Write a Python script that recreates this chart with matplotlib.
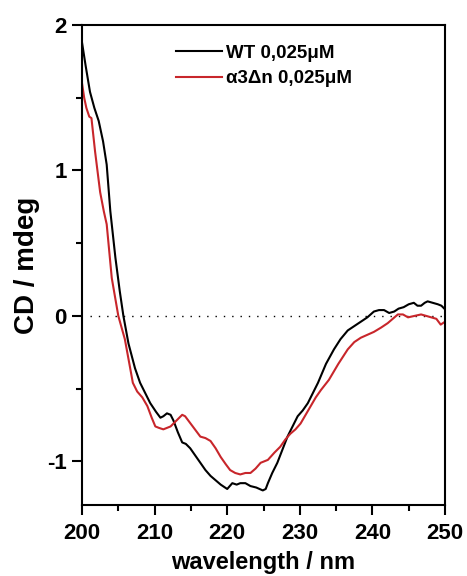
import matplotlib

matplotlib.use("Agg")

import matplotlib.pyplot as plt  # noqa: E402
from matplotlib.ticker import MultipleLocator  # noqa: E402

plt.rcParams["font.family"] = ["Liberation Sans", "DejaVu Sans"]
plt.rcParams["font.weight"] = "bold"
plt.rcParams["axes.unicode_minus"] = False

# CD spectra (wavelength nm, CD mdeg)
wt_nm = [200.0, 200.5, 201.1, 201.7, 202.3, 202.9, 203.4, 203.9, 204.6, 205.2,
         205.7, 206.4, 207.3, 208.0, 208.7, 209.4, 210.2, 210.8, 211.2, 211.7,
         212.2, 212.6, 213.2, 213.8, 214.3, 214.9, 215.6, 216.3, 217.0, 217.7,
         218.4, 219.1, 220.0, 220.7, 221.3, 221.8, 222.5, 223.2, 224.0, 224.9,
         225.3, 225.6, 226.2, 226.9, 227.6, 228.3, 229.0, 229.7, 230.4, 231.1,
         231.8, 232.5, 233.6, 234.7, 235.6, 236.6, 237.5, 238.4, 239.3, 240.2,
         240.9, 241.6, 242.3, 243.0, 243.6, 244.3, 245.0, 245.7, 246.2, 246.7,
         247.2, 247.6, 248.3, 249.0, 249.5, 249.9]
wt_cd = [1.88, 1.72, 1.54, 1.43, 1.34, 1.20, 1.04, 0.72, 0.40, 0.17,
         0.00, -0.19, -0.36, -0.46, -0.53, -0.60, -0.66, -0.70, -0.69, -0.67,
         -0.68, -0.72, -0.80, -0.87, -0.88, -0.91, -0.96, -1.01, -1.06, -1.10,
         -1.13, -1.16, -1.19, -1.15, -1.16, -1.15, -1.15, -1.17, -1.18, -1.20,
         -1.19, -1.15, -1.08, -1.01, -0.92, -0.83, -0.76, -0.69, -0.65, -0.60,
         -0.53, -0.46, -0.33, -0.23, -0.16, -0.10, -0.07, -0.04, -0.01, 0.03,
         0.04, 0.04, 0.02, 0.03, 0.05, 0.06, 0.08, 0.09, 0.07, 0.07,
         0.09, 0.10, 0.09, 0.08, 0.07, 0.05]

mut_nm = [200.0, 200.3, 200.6, 201.0, 201.3, 201.8, 202.5, 203.0, 203.4, 204.1,
          205.0, 205.9, 206.6, 207.0, 207.6, 208.3, 209.0, 209.6, 210.1, 210.6,
          211.2, 211.7, 212.2, 213.0, 213.8, 214.2, 214.5, 215.4, 216.3, 217.0,
          217.7, 218.4, 219.1, 219.8, 220.4, 221.1, 221.8, 222.5, 223.2, 223.9,
          224.6, 225.6, 226.5, 227.3, 228.0, 228.7, 229.4, 230.1, 230.8, 231.5,
          232.2, 232.9, 234.0, 235.3, 236.6, 237.5, 238.4, 239.3, 240.2, 241.2,
          242.1, 242.8, 243.5, 244.2, 244.9, 245.8, 246.7, 247.4, 248.1, 248.8,
          249.4, 250.0]
mut_cd = [1.60, 1.50, 1.43, 1.37, 1.36, 1.13, 0.85, 0.72, 0.63, 0.26,
          0.00, -0.16, -0.35, -0.46, -0.52, -0.56, -0.62, -0.70, -0.76, -0.77,
          -0.78, -0.77, -0.76, -0.72, -0.68, -0.69, -0.71, -0.77, -0.83, -0.84,
          -0.86, -0.91, -0.97, -1.02, -1.06, -1.08, -1.09, -1.08, -1.08, -1.05,
          -1.01, -0.99, -0.94, -0.90, -0.85, -0.81, -0.78, -0.74, -0.68, -0.62,
          -0.56, -0.51, -0.44, -0.33, -0.23, -0.18, -0.15, -0.13, -0.11, -0.08,
          -0.05, -0.02, 0.01, 0.01, -0.01, 0.00, 0.01, 0.00, -0.01, -0.02,
          -0.06, -0.04]

labels = ["WT 0,025\u03bcM", "\u03b13\u0394n 0,025\u03bcM"]
colors = ["#000000", "#c8262b"]

fig = plt.figure(figsize=(4.67, 5.76), dpi=100)
ax = fig.add_axes([0.1756, 0.1233, 0.7774, 0.8333])

ax.hlines(0, 201.1, 250, colors="black", linestyles=(0, (1, 5)), lw=1)
ax.plot(wt_nm, wt_cd, color=colors[0], lw=1.5, label=labels[0])
ax.plot(mut_nm, mut_cd, color=colors[1], lw=1.5, label=labels[1])

ax.set_xlim(200, 250)
ax.set_ylim(-1.3, 2.0)
ax.xaxis.set_major_locator(MultipleLocator(10))
ax.xaxis.set_minor_locator(MultipleLocator(5))
ax.yaxis.set_major_locator(MultipleLocator(1))
ax.yaxis.set_minor_locator(MultipleLocator(0.5))
ax.tick_params(which="major", direction="out", length=7, width=1.5, labelsize=16)
ax.tick_params(axis="x", which="major", pad=6)
ax.tick_params(axis="y", which="major", pad=4)
ax.tick_params(which="minor", direction="out", length=4, width=1.5)
for sp in ax.spines.values():
    sp.set_linewidth(1.5)

ax.set_xlabel("wavelength / nm", fontsize=17, fontweight="bold", labelpad=5)
ax.set_ylabel("CD / mdeg", fontsize=20, fontweight="bold", labelpad=5)

ax.legend(loc="upper left", bbox_to_anchor=(0.259, 0.959), frameon=False,
          fontsize=13.5, handlelength=2.45, handletextpad=0.2, borderpad=0,
          borderaxespad=0, labelspacing=0.45)

fig.savefig("out.png", dpi=100)
